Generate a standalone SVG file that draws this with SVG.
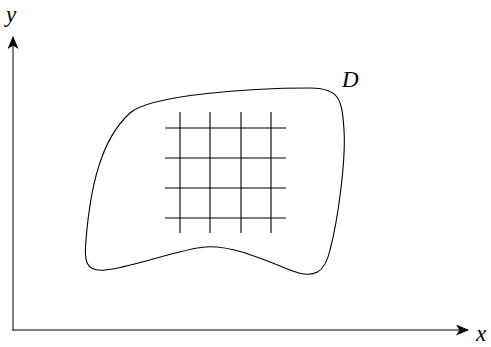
<svg xmlns="http://www.w3.org/2000/svg" width="491" height="347" viewBox="0 0 491 347">
<style>
.ax{stroke:#000;stroke-width:1;fill:none}
.g{stroke:#000;stroke-width:1.1;fill:none}
.lbl{font-family:"Liberation Serif",serif;font-style:italic;font-size:23px;fill:#000}
</style>
<defs>
<marker id="ah" viewBox="0 0 13 11" refX="12" refY="5.5" markerWidth="13" markerHeight="11" markerUnits="userSpaceOnUse" orient="auto">
<path d="M0,0 L13,5.5 L0,11 L3.5,5.5 Z" fill="#000"/>
</marker>
</defs>
<g id="connectors">
<line class="ax" x1="13" y1="331" x2="13" y2="37" marker-end="url(#ah)"/>
<line class="ax" x1="13" y1="330" x2="468" y2="330" marker-end="url(#ah)"/>
</g>
<g id="region-D">
<path class="g" d="M 130 113 C 150 95, 250 88, 310 88 C 340 88, 342 100, 344 130 C 346 160, 338 220, 330 250 C 325 272, 315 280, 290 270 C 260 258, 230 245, 205 247 C 180 249, 130 268, 105 270 C 85 272, 84 260, 86 240 C 90 190, 100 140, 130 113 Z"/>
</g>
<g id="grid">
<path class="g" d="M180 112V233M210 112V233M241 112V233M271 112V233M165 128H286M165 158H286M165 188H286M165 218H286"/>
</g>
<g id="labels">
<text class="lbl" x="6" y="22">y</text>
<text class="lbl" x="342" y="87">D</text>
<text class="lbl" x="476" y="341">x</text>
</g>
</svg>
